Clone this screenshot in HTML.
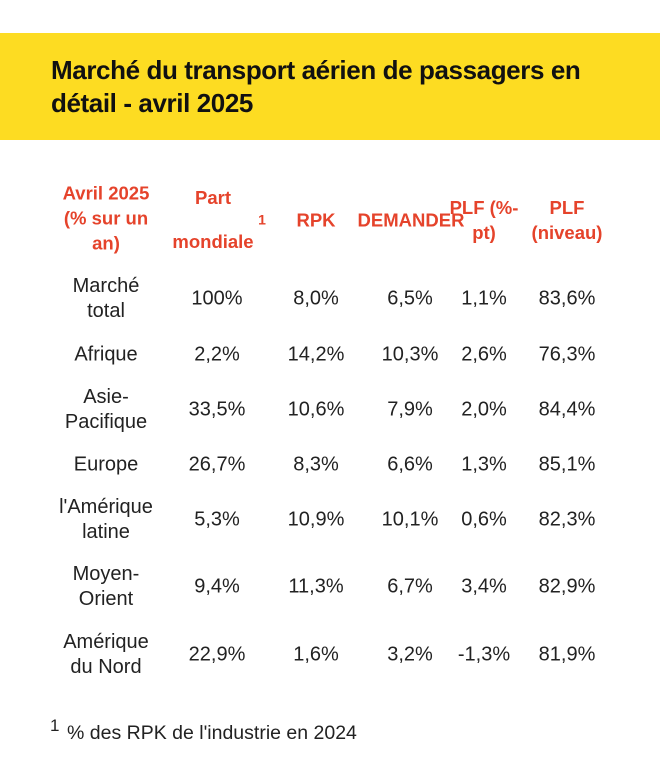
<!DOCTYPE html>
<html><head><meta charset="utf-8"><style>
body{margin:0;width:660px;height:776px;background:#fff;position:relative;overflow:hidden;font-family:"Liberation Sans",sans-serif;}
.band{position:absolute;left:0;top:33px;width:660px;height:107px;background:#FDDC22;}
.title{position:absolute;left:51px;top:54px;font-weight:bold;font-size:26px;line-height:33px;color:#111;letter-spacing:-0.4px;}
.c{position:absolute;width:140px;text-align:center;font-size:20px;line-height:25px;color:#222;transform:translateY(-50%);}
.h{color:#E5432B;font-weight:bold;font-size:18.5px;}
</style></head><body>
<div class="band"></div>
<div class="title">Marché du transport aérien de passagers en<br>détail - avril 2025</div>

<div class="c h" style="left:36px;top:218px">Avril 2025<br>(% sur un<br>an)</div>
<div class="c h" style="left:143px;top:220px;line-height:44px">Part<br>mondiale</div>
<div class="c h" style="left:192px;top:220px;font-size:14px">1</div>
<div class="c h" style="left:246px;top:220px">RPK</div>
<div class="c h" style="left:341px;top:220px">DEMANDER</div>
<div class="c h" style="left:414px;top:220px">PLF (%-<br>pt)</div>
<div class="c h" style="left:497px;top:220px">PLF<br>(niveau)</div>

<div class="c" style="left:36px;top:299px">Marché<br>total</div>
<div class="c" style="left:36px;top:355px">Afrique</div>
<div class="c" style="left:36px;top:410px">Asie-<br>Pacifique</div>
<div class="c" style="left:36px;top:465px">Europe</div>
<div class="c" style="left:36px;top:520px">l'Amérique<br>latine</div>
<div class="c" style="left:36px;top:587px">Moyen-<br>Orient</div>
<div class="c" style="left:36px;top:655px">Amérique<br>du Nord</div>

<div class="c" style="left:147px;top:299px">100%</div>
<div class="c" style="left:147px;top:355px">2,2%</div>
<div class="c" style="left:147px;top:410px">33,5%</div>
<div class="c" style="left:147px;top:465px">26,7%</div>
<div class="c" style="left:147px;top:520px">5,3%</div>
<div class="c" style="left:147px;top:587px">9,4%</div>
<div class="c" style="left:147px;top:655px">22,9%</div>

<div class="c" style="left:246px;top:299px">8,0%</div>
<div class="c" style="left:246px;top:355px">14,2%</div>
<div class="c" style="left:246px;top:410px">10,6%</div>
<div class="c" style="left:246px;top:465px">8,3%</div>
<div class="c" style="left:246px;top:520px">10,9%</div>
<div class="c" style="left:246px;top:587px">11,3%</div>
<div class="c" style="left:246px;top:655px">1,6%</div>

<div class="c" style="left:340px;top:299px">6,5%</div>
<div class="c" style="left:340px;top:355px">10,3%</div>
<div class="c" style="left:340px;top:410px">7,9%</div>
<div class="c" style="left:340px;top:465px">6,6%</div>
<div class="c" style="left:340px;top:520px">10,1%</div>
<div class="c" style="left:340px;top:587px">6,7%</div>
<div class="c" style="left:340px;top:655px">3,2%</div>

<div class="c" style="left:414px;top:299px">1,1%</div>
<div class="c" style="left:414px;top:355px">2,6%</div>
<div class="c" style="left:414px;top:410px">2,0%</div>
<div class="c" style="left:414px;top:465px">1,3%</div>
<div class="c" style="left:414px;top:520px">0,6%</div>
<div class="c" style="left:414px;top:587px">3,4%</div>
<div class="c" style="left:414px;top:655px">-1,3%</div>

<div class="c" style="left:497px;top:299px">83,6%</div>
<div class="c" style="left:497px;top:355px">76,3%</div>
<div class="c" style="left:497px;top:410px">84,4%</div>
<div class="c" style="left:497px;top:465px">85,1%</div>
<div class="c" style="left:497px;top:520px">82,3%</div>
<div class="c" style="left:497px;top:587px">82,9%</div>
<div class="c" style="left:497px;top:655px">81,9%</div>

<div style="position:absolute;left:50px;top:716px;font-size:17px;color:#222">1</div>
<div style="position:absolute;left:67px;top:722px;font-size:19.5px;color:#222">% des RPK de l'industrie en 2024</div>
</body></html>
